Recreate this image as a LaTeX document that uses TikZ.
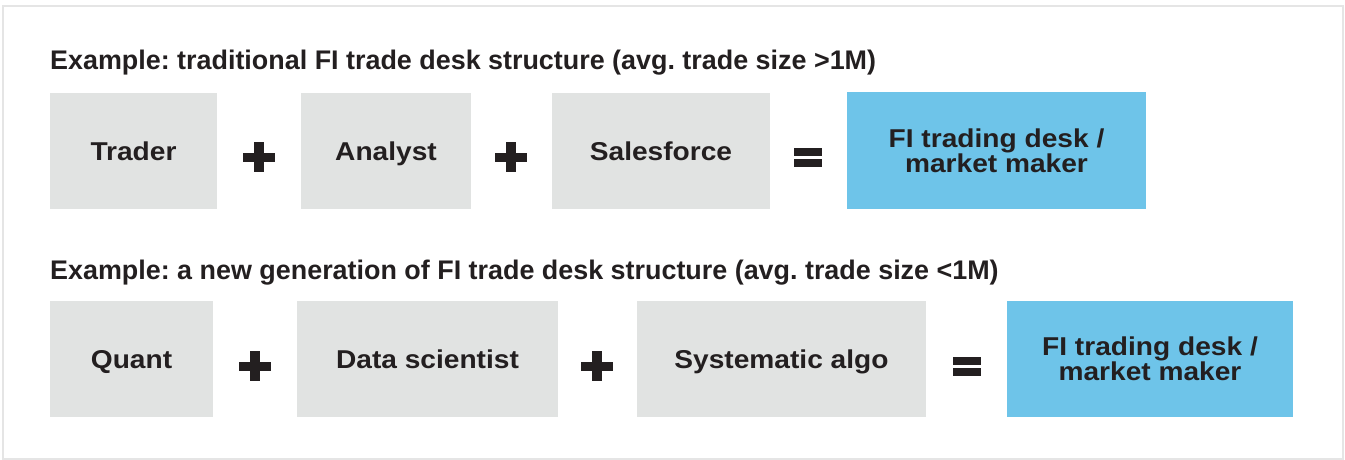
\documentclass[tikz,border=0pt]{standalone}
\usepackage{fontspec}
\setmainfont{Liberation Sans}
\newfontfamily\boxfont[FakeStretch=1.09]{Liberation Sans}
\frenchspacing
\definecolor{ink}{HTML}{231F20}
\definecolor{boxgray}{HTML}{E1E3E2}
\definecolor{boxblue}{HTML}{6EC4E9}
\definecolor{framecol}{HTML}{E5E5E5}
\tikzset{
  title/.style={anchor=base west, inner sep=0pt, text=ink, font=\fontsize{26.9}{30}\selectfont\bfseries},
  graybox/.style={fill=boxgray, draw=none, inner sep=0pt, text=ink, text height=18.5pt, text depth=0pt,
    font=\boxfont\fontsize{25.8}{23}\selectfont\bfseries},
  bluebox/.style={fill=boxblue, draw=none, inner sep=0pt, text=ink, align=center,
    font=\boxfont\fontsize{25.8}{23}\selectfont\bfseries},
  plussign/.style={minimum width=32pt, minimum height=30pt, inner sep=0pt, outer sep=0pt,
    path picture={
      \fill[ink] ([yshift=-4.5pt]path picture bounding box.west) rectangle ([yshift=4.5pt]path picture bounding box.east);
      \fill[ink] ([xshift=-5pt]path picture bounding box.south) rectangle ([xshift=5pt]path picture bounding box.north);
    }},
  eqsign/.style={minimum width=28pt, minimum height=19pt, inner sep=0pt, outer sep=0pt,
    path picture={
      \fill[ink] (path picture bounding box.north west) rectangle ([yshift=-8pt]path picture bounding box.north east);
      \fill[ink] (path picture bounding box.south west) rectangle ([yshift=8pt]path picture bounding box.south east);
    }}
}
\begin{document}
\begin{tikzpicture}[x=1pt,y=-1pt]
\useasboundingbox (0,0) rectangle (1345,460);
\draw[framecol, line width=2pt] (3,6) rectangle (1343,459);

\node[title] (t1) at (50,70) {Example: traditional FI trade desk structure (avg. trade size >1M)};
\node[title] (t2) at (50,279) {Example: a new generation of FI trade desk structure (avg. trade size <1M)};

\node[graybox, minimum width=167pt, minimum height=116pt] (trader) at (133.5,151) {Trader};
\node[plussign] (p1) at (259,157) {};
\node[graybox, minimum width=170pt, minimum height=116pt] (analyst) at (386,151) {Analyst};
\node[plussign] (p2) at (511,157) {};
\node[graybox, minimum width=218pt, minimum height=116pt] (sales) at (661,151) {Salesforce};
\node[eqsign] (e1) at (808,157) {};
\node[bluebox, minimum width=299pt, minimum height=117pt] (desk1) at (996.5,150.5) {FI trading desk /\\market maker};

\node[graybox, minimum width=163pt, minimum height=116pt] (quant) at (131.5,359) {Quant};
\node[plussign] (p3) at (255,366) {};
\node[graybox, minimum width=261pt, minimum height=116pt] (data) at (427.5,359) {Data scientist};
\node[plussign] (p4) at (597,366) {};
\node[graybox, minimum width=289pt, minimum height=116pt] (algo) at (781.5,359) {Systematic algo};
\node[eqsign] (e2) at (967,366) {};
\node[bluebox, minimum width=286pt, minimum height=116pt] (desk2) at (1150,359) {FI trading desk /\\market maker};
\end{tikzpicture}
\end{document}
